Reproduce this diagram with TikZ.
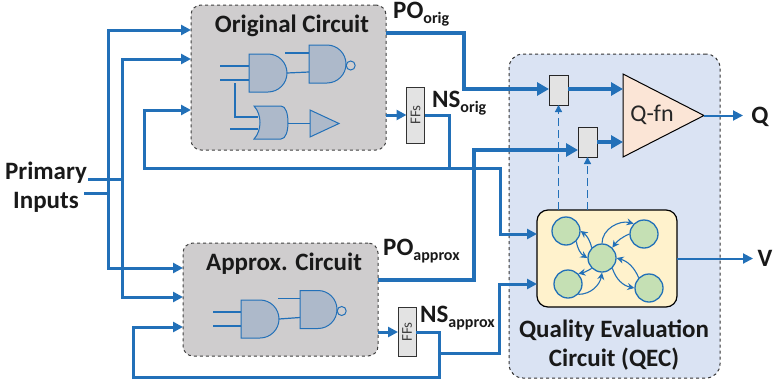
\documentclass[tikz,border=0pt]{standalone}
\usepackage{fontspec}
\setmainfont{Carlito}
\usepackage{xcolor}
\usetikzlibrary{arrows.meta, positioning, shapes.geometric}
\definecolor{wireblue}{HTML}{2270B8}
\definecolor{gatefill}{HTML}{ADB9CA}
\definecolor{circuitgrey}{HTML}{CFCDCE}
\definecolor{qecblue}{HTML}{DAE3F3}
\definecolor{evalyellow}{HTML}{FFF2CC}
\definecolor{stategreen}{HTML}{C5E0B4}
\definecolor{qfnpeach}{HTML}{FBE5D6}
\definecolor{boxgrey}{HTML}{E3E3E3}
\newcommand{\lowtext}[1]{\raisebox{-5.5pt}{\fontsize{16}{16}\selectfont #1}}
\begin{document}
\begin{tikzpicture}[
    x=1pt, y=-1pt,
    circuit/.style={draw=black!75, dashed, line width=1pt, rounded corners=10pt, fill=circuitgrey, minimum width=195pt, inner sep=0pt, outer sep=0pt},
    ffbox/.style={draw=black!80, fill=boxgrey, line width=1pt, minimum width=18pt, inner sep=0pt, outer sep=0pt, text=black!75, font=\fontsize{15}{15}\selectfont},
    muxbox/.style={draw=black!85, fill=boxgrey, line width=1pt, minimum width=19pt, minimum height=30pt, inner sep=0pt, outer sep=0pt},
    state/.style={circle, draw=wireblue, fill=stategreen, line width=1.3pt, minimum size=28pt, inner sep=0pt},
    label/.style={font=\bfseries\fontsize{25}{29}\selectfont, text=black!90, inner sep=0pt, align=center},
    gateline/.style={draw=wireblue, fill=gatefill, line width=1pt},
    andg/.pic={
        \path[gateline] (0,-19) -- (19,-19) arc[start angle=90, end angle=-90, radius=19pt] -- (0,19) -- cycle;
        \coordinate (-a) at (0,-7);
        \coordinate (-b) at (0,7);
        \coordinate (-out) at (38,0);
    },
    nandg/.pic={
        \path[gateline] (0,-19) -- (18,-19) arc[start angle=90, end angle=-90, radius=19pt] -- (0,19) -- cycle;
        \path[draw=wireblue, line width=1pt] (41.7,1.5) circle[radius=4.5pt];
        \coordinate (-a) at (0,-11);
        \coordinate (-b) at (0,8);
    },
    org/.pic={
        \path[gateline] (0,-16.5) -- (27,-16.5) .. controls (32,-16.5) and (34,-8) .. (34,0) .. controls (34,8) and (32,16.5) .. (27,16.5) -- (0,16.5) .. controls (8,8) and (8,-8) .. (0,-16.5) -- cycle;
        \coordinate (-a) at (4,-5.5);
        \coordinate (-b) at (4,6.5);
        \coordinate (-out) at (34,1);
    },
    wire/.style={draw=wireblue, line width=3pt},
    fatwire/.style={draw=wireblue, line width=4pt},
    thinwire/.style={draw=wireblue, line width=1.2pt},
    arrow/.style={-{Triangle[length=10pt, width=10pt]}},
    bigarrow/.style={-{Triangle[length=12pt, width=13pt]}},
    qarrow/.style={draw=wireblue, line width=1.1pt, -{Stealth[length=7pt, width=7pt]}},
    selectwire/.style={draw=wireblue, line width=1.3pt, dash pattern=on 8pt off 4pt, -{Triangle[length=7pt, width=7pt]}}
]
    \useasboundingbox (0,0) rectangle (773,383);

    % blocks
    \node[circuit, minimum height=145pt] (orig) at (288.5,77.5) {};
    \node[circuit, minimum height=113pt] (approx) at (280.5,299.5) {};
    \node[draw=black!80, dashed, line width=1pt, rounded corners=14pt, fill=qecblue, minimum width=211pt, minimum height=324pt, inner sep=0pt, outer sep=0pt] (qec) at (614.5,216) {};
    \node[draw=black, line width=1.2pt, rounded corners=11pt, fill=evalyellow, minimum width=140pt, minimum height=97pt, inner sep=0pt, outer sep=0pt] (eval) at (607,258.5) {};
    \node[ffbox, minimum height=56pt] (fforig) at (415.5,115) {\rotatebox{90}{FFs}};
    \node[ffbox, minimum height=49pt] (ffapprox) at (407,332) {\rotatebox{90}{FFs}};
    \node[muxbox] (muxa) at (558.5,90) {};
    \node[muxbox] (muxb) at (587.5,142) {};
    \node[isosceles triangle, isosceles triangle stretches, draw=black, line width=1pt, fill=qfnpeach, minimum height=81pt, minimum width=83pt, inner sep=0pt, outer sep=0pt, anchor=apex] (qfn) at (704,115.5) {};

    % gates
    \pic (ga) at (249,73) {andg};
    \pic (gb) at (309,64) {nandg};
    \pic (gc) at (254,122.5) {org};
    \node[isosceles triangle, isosceles triangle stretches, gateline, minimum height=29pt, minimum width=27pt, inner sep=0pt, outer sep=0pt, anchor=apex] (gd) at (339,123.5) {};
    \pic (ge) at (241,319) {andg};
    \pic (gf) at (300,309.5) {nandg};

    % labels
    \node[label] (lorig) at (292,26) {Original Circuit};
    \node[label] (lapprox) at (284,264) {Approx. Circuit};
    \node[label] (lprimary) at (46,173) {Primary};
    \node[label] (linputs) at (46,202) {Inputs};
    \node[label, anchor=base west] (lpoorig) at (393,18) {PO\lowtext{orig}};
    \node[label, anchor=base west] (lnsorig) at (432,107) {NS\lowtext{orig}};
    \node[label, anchor=base west] (lpoapprox) at (383,255) {PO\lowtext{approx}};
    \node[label, anchor=base west] (lnsapprox) at (420,322) {NS\lowtext{approx}};
    \node[label] (lqec) at (614,345) {Quality Evaluation\\Circuit (QEC)};
    \node[label] (lq) at (760,117) {Q};
    \node[label] (lv) at (765,258) {V};
    \node[inner sep=0pt, text=black!85, font=\fontsize{24}{24}\selectfont] (lqfn) at (652,115) {Q-fn};

    % state machine
    \node[state] (sa) at (566,231) {};
    \node[state] (sb) at (644,234) {};
    \node[state] (sc) at (602,258) {};
    \node[state] (sd) at (568,284) {};
    \node[state] (se) at (649,288) {};

    \draw[qarrow] (sa.south east) to[bend right=25] (sc.west);
    \draw[qarrow] (sc.north west) to[bend right=20] (sa.east);
    \draw[qarrow] (sc.north) to[out=90, in=165] (sb.north west);
    \draw[qarrow] (sb.west) to[bend right=15] (sc.north east);
    \draw[qarrow] (sc.south east) to[bend right=30] (se.west);
    \draw[qarrow] (se.north west) to[bend right=25] (sc.east);
    \draw[qarrow] (sc.south west) to[bend left=10] (sd.north east);
    \draw[qarrow] (sd.south east) to[out=0, in=-100] (sc.south);

    % gate wiring
    \draw[thinwire] (ga-a) -- +(-29,0);
    \draw[thinwire] (ga-b) -- +(-29,0);
    \draw[thinwire] (ga-out) -- (gb-b);
    \draw[thinwire] (gb-a) -- +(-24,0);
    \draw[thinwire] (gc-a) -- (235,117) -- (235,83);
    \draw[thinwire] (gc-b) -- +(-28,0);
    \draw[thinwire] (gc-out) -- (gd.west);
    \draw[thinwire] (ge-a) -- +(-28,0);
    \draw[thinwire] (ge-b) -- +(-28,0);
    \draw[thinwire] (ge-out) -- (gf-b);
    \draw[thinwire] (gf-a) -- +(-22,0);

    % inputs
    \coordinate (ja) at (108,193);
    \coordinate (jb) at (122,179);
    \draw[wire] (88,179) -- (jb);
    \draw[wire] (84,193) -- (ja);
    \draw[wire, arrow] (ja) -- (108,30) -- (orig.west |- 0,30);
    \draw[wire, arrow] (jb) -- (122,59) -- (orig.west |- 0,59);
    \draw[wire, arrow] (ja) -- (108,268) -- (approx.west |- 0,268);
    \draw[wire, arrow] (jb) -- (122,297) -- (approx.west |- 0,297);

    % next state
    \draw[wire, arrow] (orig.east |- fforig) -- (fforig.west);
    \draw[wire, arrow] (approx.east |- ffapprox) -- (ffapprox.west);
    \coordinate (jc) at (449,168);
    \coordinate (jd) at (439,353);
    \draw[wire] (fforig.east) -- (449,115) -- (jc);
    \draw[wire, arrow] (jc) -- (144,168) -- (144,110) -- (orig.west |- 0,110);
    \draw[wire, arrow] (jc) -- (500,168) -- (500,234) -- (eval.west |- 0,234);
    \draw[wire] (ffapprox.east) -- (439,332) -- (jd);
    \draw[wire, arrow] (jd) -- (439,377) -- (133,377) -- (133,327) -- (approx.west |- 0,327);
    \draw[wire, arrow] (jd) -- (499,353) -- (499,284) -- (eval.west |- 0,284);

    % primary outputs
    \draw[fatwire, bigarrow] (orig.east |- 0,33) -- (464,33) -- (464,89) -- (muxa.west |- 0,89);
    \draw[fatwire, bigarrow] (approx.east |- 0,280) -- (474,280) -- (474,150) -- (muxb.west |- 0,150);
    \draw[fatwire, bigarrow] (muxa.east |- 0,89) -- (qfn.west |- 0,89);
    \draw[fatwire, bigarrow] (muxb.east |- 0,142) -- (qfn.west |- 0,142);

    % select lines
    \draw[selectwire] (muxa |- eval.north) -- (muxa.south);
    \draw[selectwire] (muxb |- eval.north) -- (muxb.south);

    % results
    \draw[draw=wireblue, line width=2pt, arrow] (qfn.apex) -- (743,115.5);
    \draw[draw=wireblue, line width=2pt, arrow] (eval.east) -- (753,258.5);
\end{tikzpicture}
\end{document}
